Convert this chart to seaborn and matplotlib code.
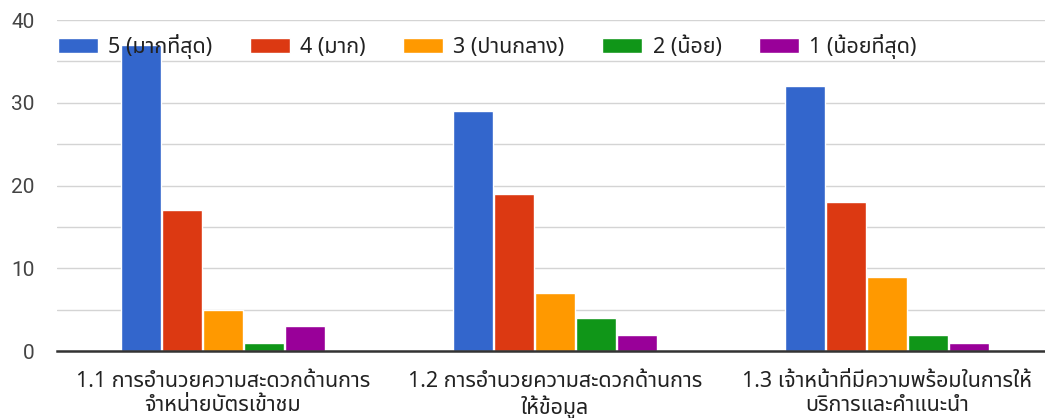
import os
import matplotlib
matplotlib.use("Agg")
import matplotlib.pyplot as plt
from matplotlib import font_manager
import seaborn as sns
import pandas as pd

categories = [
    "1.1 การอำนวยความสะดวกด้านการ\nจำหน่ายบัตรเข้าชม",
    "1.2 การอำนวยความสะดวกด้านการ\nให้ข้อมูล",
    "1.3 เจ้าหน้าที่มีความพร้อมในการให้\nบริการและคำแนะนำ",
]
levels = ["5 (มากที่สุด)", "4 (มาก)", "3 (ปานกลาง)", "2 (น้อย)", "1 (น้อยที่สุด)"]
v5 = [37, 29, 32]
v4 = [17, 19, 18]
v3 = [5, 7, 9]
v2 = [1, 4, 2]
v1 = [3, 2, 1]
colors = ["#3366cc", "#dc3912", "#ff9900", "#109618", "#990099"]

# pick a proportional font with Thai glyphs
prefs = ["NotoSansThai-Regular.ttf", "NotoSansThai[wdth,wght].ttf", "Sarabun-Regular.ttf",
         "IBMPlexSansThai-Regular.ttf", "Niramit-Regular.ttf"]
paths = {os.path.basename(p): p for p in font_manager.findSystemFonts()}
thai_font = None
for name in prefs:
    if name in paths:
        font_manager.fontManager.addfont(paths[name])
        thai_font = font_manager.FontProperties(fname=paths[name]).get_name()
        break
if thai_font is None:
    for base, p in paths.items():
        if base.startswith("NotoSansThai") or base.startswith("Sarabun-Reg"):
            font_manager.fontManager.addfont(p)
            thai_font = font_manager.FontProperties(fname=p).get_name()
            break

rows = []
for lvl, vals in zip(levels, [v5, v4, v3, v2, v1]):
    for c, v in zip(categories, vals):
        rows.append({"cat": c, "level": lvl, "value": v})
df = pd.DataFrame(rows)

sns.set_style("white")
fams = ([thai_font] if thai_font else []) + ["DejaVu Sans"]
plt.rcParams["font.family"] = fams

fig = plt.figure(figsize=(10.45, 4.18), dpi=100)
ax = fig.add_axes([0.0545, 0.160, 0.953, 0.792])
sns.barplot(data=df, x="cat", y="value", hue="level", hue_order=levels,
            order=categories, palette=colors, width=0.617, saturation=1,
            gap=0.02, ax=ax, zorder=3)
ax.set_ylim(0, 40)
ax.set_xlim(-0.5, 2.5)
ax.set_yticks([0, 10, 20, 30, 40])
ax.set_yticks([5, 15, 25, 35], minor=True)
ax.grid(axis="y", which="both", color="#d4d4d4", linewidth=1, zorder=0)
for s in ["left", "right", "top"]:
    ax.spines[s].set_visible(False)
ax.spines["bottom"].set_color("#333333")
ax.spines["bottom"].set_linewidth(1.8)
ax.spines["bottom"].set_zorder(4)
ax.tick_params(axis="y", which="both", length=0, labelsize=15, labelcolor="#444444", pad=16)
ax.tick_params(axis="x", length=0, labelsize=15.5, labelcolor="#222222", pad=14)
for t in ax.get_yticklabels():
    t.set_fontfamily("Roboto")
ax.set_xlabel("")
ax.set_ylabel("")
leg = ax.legend(loc="upper left", bbox_to_anchor=(-0.013, 1.0), ncol=5, frameon=False,
                fontsize=15.5, handlelength=1.86, handleheight=0.7, columnspacing=1.75,
                handletextpad=0.47, borderaxespad=0, borderpad=0.64)
for t in leg.get_texts():
    t.set_color("#222222")
fig.savefig("out.png", dpi=100)
